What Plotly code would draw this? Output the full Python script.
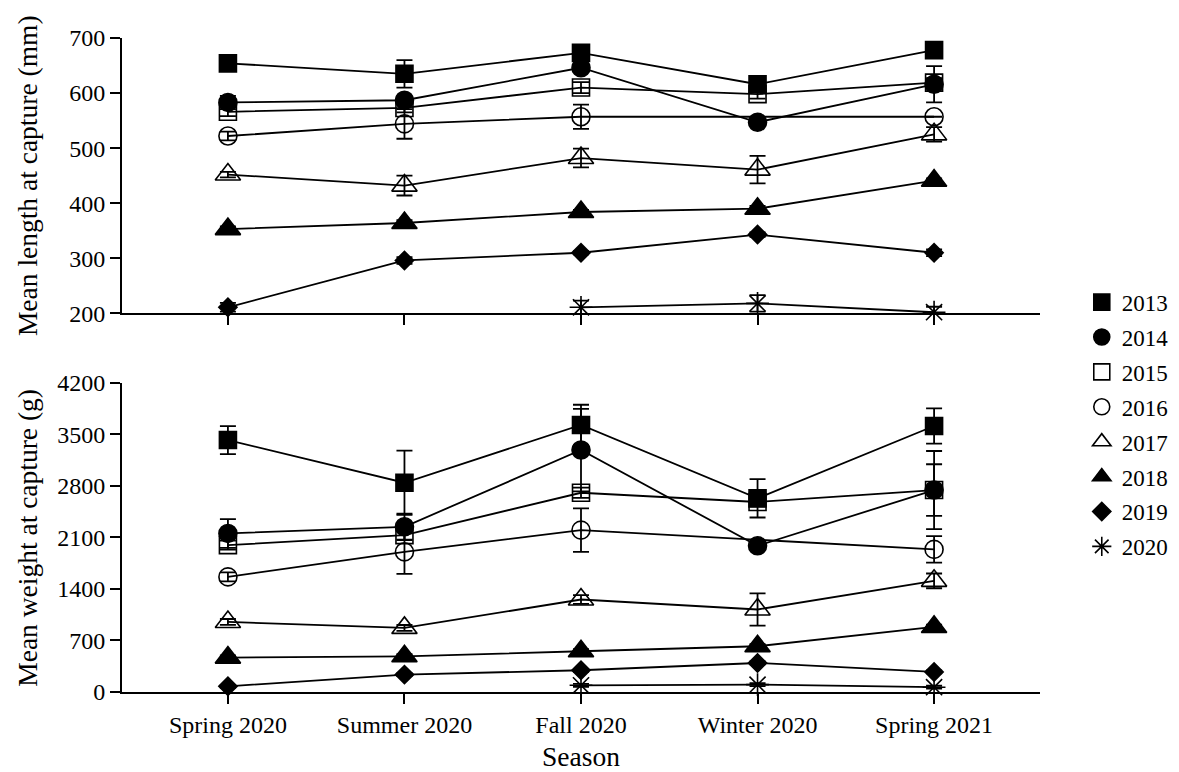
import plotly.graph_objects as go

seasons = ["Spring 2020", "Summer 2020", "Fall 2020", "Winter 2020", "Spring 2021"]
years = ["2013", "2014", "2015", "2016", "2017", "2018", "2019", "2020"]

# Mean length at capture (mm)
len_2013 = [654, 635, 673, 616, 678]
len_2014 = [583, 587, 646, 547, 616]
len_2015 = [566, 573, 610, 598, 619]
len_2016 = [522, 544, 557, None, 557]
len_2017 = [452, 432, 482, 461, 525]
len_2018 = [353, 364, 384, 390, 441]
len_2019 = [211, 296, 310, 343, 310]
len_2020 = [None, None, 211, 218, 202]

len_err_2013 = [0, 25, 0, 0, 0]
len_err_2014 = [12, 6, 6, 0, 33]
len_err_2015 = [8, 8, 10, 8, 8]
len_err_2016 = [8, 27, 22, 0, 0]
len_err_2017 = [5, 18, 17, 25, 13]
len_err_2018 = [5, 5, 4, 5, 4]
len_err_2019 = [8, 6, 3, 4, 6]
len_err_2020 = [0, 0, 12, 15, 10]

# Mean weight at capture (g)
wt_2013 = [3421, 2841, 3625, 2629, 3611]
wt_2014 = [2153, 2243, 3285, 1985, 2742]
wt_2015 = [1994, 2130, 2705, 2580, 2742]
wt_2016 = [1563, 1903, 2198, None, 1936]
wt_2017 = [951, 870, 1256, 1120, 1509]
wt_2018 = [467, 485, 553, 621, 884]
wt_2019 = [77, 236, 295, 394, 272]
wt_2020 = [None, None, 91, 100, 65]

wt_err_2013 = [190, 435, 275, 260, 240]
wt_err_2014 = [195, 180, 560, 0, 530]
wt_err_2015 = [60, 60, 70, 60, 350]
wt_err_2016 = [60, 300, 295, 0, 180]
wt_err_2017 = [40, 40, 60, 220, 100]
wt_err_2018 = [30, 30, 30, 30, 30]
wt_err_2019 = [20, 20, 20, 20, 20]
wt_err_2020 = [0, 0, 20, 20, 20]

lengths = [len_2013, len_2014, len_2015, len_2016, len_2017, len_2018, len_2019, len_2020]
len_errs = [len_err_2013, len_err_2014, len_err_2015, len_err_2016, len_err_2017,
            len_err_2018, len_err_2019, len_err_2020]
weights = [wt_2013, wt_2014, wt_2015, wt_2016, wt_2017, wt_2018, wt_2019, wt_2020]
wt_errs = [wt_err_2013, wt_err_2014, wt_err_2015, wt_err_2016, wt_err_2017,
           wt_err_2018, wt_err_2019, wt_err_2020]

symbols = ["square", "circle", "square-open", "circle-open", "triangle-up-open",
           "triangle-up", "diamond", "asterisk-open"]
sizes = [17, 18, 17, 18, 22, 22, 14, 19]

FONT = "Liberation Serif, Times New Roman, serif"
fig = go.Figure()

for i, yr in enumerate(years):
    for vals, errs, xa, ya in [(lengths[i], len_errs[i], "x", "y"),
                               (weights[i], wt_errs[i], "x2", "y2")]:
        fig.add_trace(go.Scatter(
            x=seasons, y=vals, xaxis=xa, yaxis=ya,
            mode="lines+markers", connectgaps=True, cliponaxis=False,
            line=dict(color="black", width=1.8),
            marker=dict(symbol=symbols[i], size=sizes[i], color="black",
                        line=dict(color="black", width=1.6)),
            error_y=dict(type="data", array=errs, visible=True,
                         color="black", thickness=1.8, width=8),
            legendgroup=yr, showlegend=False, name=yr,
        ))
    # legend-only entry (marker only)
    fig.add_trace(go.Scatter(
        x=[None], y=[None], xaxis="x", yaxis="y", mode="markers",
        marker=dict(symbol=symbols[i], size=sizes[i], color="black",
                    line=dict(color="black", width=1.6)),
        legendgroup=yr, showlegend=True, name=yr,
    ))

axis_common = dict(
    showline=True, linecolor="black", linewidth=2,
    ticks="outside", ticklen=10, tickwidth=2, tickcolor="black",
    showgrid=False, zeroline=False, automargin=False,
    tickfont=dict(family=FONT, size=24, color="black"),
)

fig.update_layout(
    width=1171, height=764,
    paper_bgcolor="white", plot_bgcolor="white",
    margin=dict(l=114, r=139, t=30, b=80, autoexpand=False),
    font=dict(family=FONT, color="black"),
    xaxis=dict(domain=[0, 1], anchor="y", type="category",
               categoryorder="array", categoryarray=seasons,
               range=[-0.6, 4.6], showticklabels=False, **axis_common),
    yaxis=dict(domain=[0.579, 1], anchor="x", range=[200, 700],
               tickvals=[200, 300, 400, 500, 600, 700], **axis_common),
    xaxis2=dict(domain=[0, 1], anchor="y2", type="category",
                categoryorder="array", categoryarray=seasons,
                range=[-0.6, 4.6],
                title=dict(text="Season", font=dict(family=FONT, size=27.5, color="black"),
                           standoff=12),
                **axis_common),
    yaxis2=dict(domain=[0, 0.473], anchor="x2", range=[0, 4200],
                tickvals=[0, 700, 1400, 2100, 2800, 3500, 4200], **axis_common),
    legend=dict(x=1.0455, xanchor="left", y=0.629, yanchor="top",
                font=dict(family=FONT, size=23, color="black"),
                traceorder="grouped", tracegroupgap=2,
                bgcolor="rgba(0,0,0,0)", itemclick="toggle"),
    annotations=[
        dict(text="Mean length at capture (mm)", xref="paper", yref="paper",
             x=-0.103, y=(0.579 + 1) / 2, xanchor="center", yanchor="middle",
             textangle=-90, showarrow=False,
             font=dict(family=FONT, size=27.5, color="black")),
        dict(text="Mean weight at capture (g)", xref="paper", yref="paper",
             x=-0.103, y=0.473 / 2, xanchor="center", yanchor="middle",
             textangle=-90, showarrow=False,
             font=dict(family=FONT, size=27.5, color="black")),
    ],
)

fig.write_html("out.html")
